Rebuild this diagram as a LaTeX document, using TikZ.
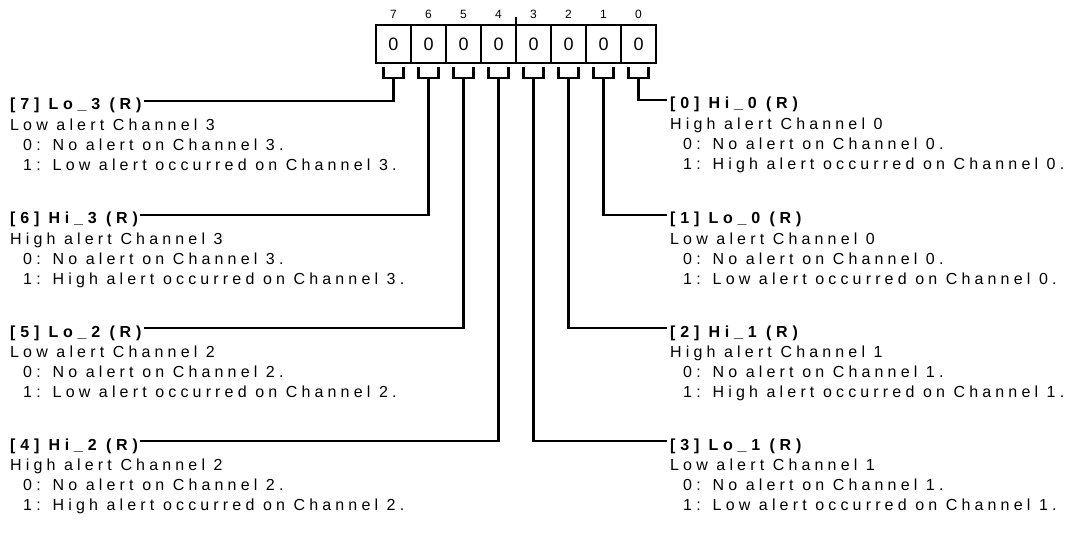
\documentclass[tikz,border=0pt]{standalone}
\usepackage{fontspec}
\setmainfont{Liberation Sans}
\newfontfamily\descfont{Liberation Sans}[LetterSpace=26]
\newfontfamily\namefont{Liberation Sans}[LetterSpace=30]
\usetikzlibrary{positioning}

\begin{document}
\begin{tikzpicture}[
  x=1pt, y=-1pt,
  cell/.style={draw, line width=1.8pt, outer sep=0pt, inner sep=0pt,
    minimum width=35pt, minimum height=38pt, font=\fontsize{18}{18}\selectfont},
  bitnum/.style={inner sep=0pt, font=\fontsize{12}{12}\selectfont},
  fieldname/.style={anchor=base west, inner sep=0pt,
    font=\fontsize{16}{20.2}\selectfont\namefont\bfseries},
  fielddesc/.style={align=left, inner sep=0pt,
    font=\fontsize{16}{20.2}\selectfont\descfont},
  bracket/.style={line width=2.6pt},
  lead/.style={line width=2.4pt}
]
  \useasboundingbox (0,0) rectangle (1081,537);

  % register cells, bit 7 on the left
  \foreach \bitno in {0,...,7} {
    \node[cell] (c\bitno) at ({393.5+(7-\bitno)*35}, 44) {0};
    \node[bitnum] (n\bitno) at ({393.5+(7-\bitno)*35}, 14) {\bitno};
    \draw[bracket] ([xshift=-10pt,yshift=-4pt]c\bitno.south) -- ++(0,11) -- ++(20,0) -- ++(0,-11);
    \coordinate (s\bitno) at ([yshift=-15pt]c\bitno.south);
  }
  \draw[line width=1.2pt] (c4.north east) -- ++(0,-8);

  % fields on the left
  \foreach \bitno/\abbr/\kind/\ch/\ly in {7/Lo/Low/3/101, 6/Hi/High/3/215, 5/Lo/Low/2/328, 4/Hi/High/2/441} {
    \node[fieldname] (t\bitno) at (10,\ly+9) {[\bitno] \abbr\_\ch\ (R)};
    \node[fielddesc, below=8.3pt of t\bitno.base west, anchor=north west] (d\bitno)
      {\kind\ alert Channel \ch\\
       \hspace*{13pt}0:\hspace{12pt}No alert on Channel \ch.\\
       \hspace*{13pt}1:\hspace{12pt}\kind\ alert occurred on Channel \ch.};
    \draw[lead] (s\bitno) |- ([xshift=2pt,yshift=9pt]t\bitno.base east);
  }

  % fields on the right
  \foreach \bitno/\abbr/\kind/\ch/\ly in {0/Hi/High/0/100, 1/Lo/Low/0/215, 2/Hi/High/1/328, 3/Lo/Low/1/441} {
    \node[fieldname] (t\bitno) at (670,\ly+9) {[\bitno] \abbr\_\ch\ (R)};
    \node[fielddesc, below=8.3pt of t\bitno.base west, anchor=north west] (d\bitno)
      {\kind\ alert Channel \ch\\
       \hspace*{13pt}0:\hspace{12pt}No alert on Channel \ch.\\
       \hspace*{13pt}1:\hspace{12pt}\kind\ alert occurred on Channel \ch.};
    \draw[lead] (s\bitno) |- ([xshift=-3pt,yshift=9pt]t\bitno.base west);
  }

\end{tikzpicture}
\end{document}
